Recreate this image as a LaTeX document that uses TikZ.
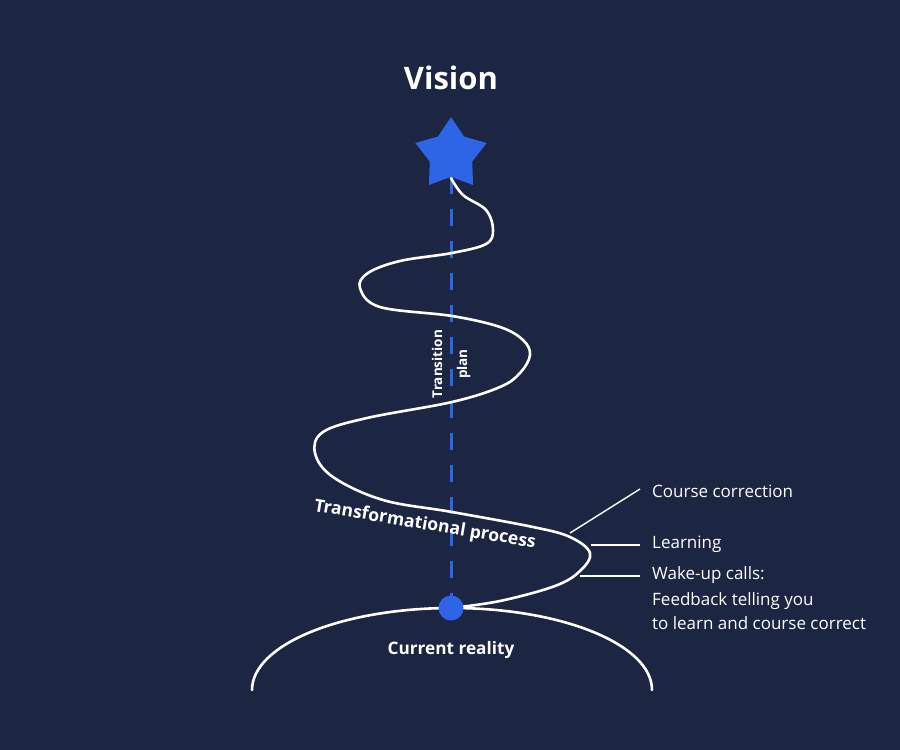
\documentclass[tikz,border=0pt]{standalone}
\usepackage{fontspec}
\setmainfont{Open Sans}
\usetikzlibrary{shapes.geometric}

\definecolor{bgnavy}{HTML}{1C2541}
\definecolor{starblue}{HTML}{2E64E6}

\begin{document}
\begin{tikzpicture}[
  x=1pt, y=-1pt,
  path/.style={draw=white, line width=2.6pt, line cap=round},
  plan/.style={draw=starblue, line width=3pt, dash pattern=on 17pt off 15pt},
  pointer/.style={draw=white, line width=1.4pt},
  callout/.style={text=white, font=\fontsize{17}{24}\selectfont, anchor=west, inner sep=0pt, align=left},
  title/.style={text=white, font=\fontsize{17.2}{20}\selectfont\bfseries}
]
\fill[bgnavy] (0,0) rectangle (900,750);
\useasboundingbox (0,0) rectangle (900,750);

\node[text=white, font=\fontsize{31}{36}\selectfont\bfseries] (vision) at (451,78) {Vision};
\node[star, star points=5, star point ratio=1.68, minimum size=75pt, inner sep=0pt] (star) at (451,154.6) {};
\node[circle, minimum size=25pt, inner sep=0pt] (now) at (451,608) {};

% transition plan
\draw[plan] (star.south) -- (now.center);
\node[text=white, rotate=90, align=center, font=\fontsize{13.5}{25}\selectfont\bfseries] (planlbl) at (451,364) {Transition\\plan};

% current reality
\draw[path] (252,690) arc[start angle=180, end angle=360, x radius=200, y radius=82];
\node[title] (reality) at (451,650) {Current reality};

% winding path
\draw[path] plot[smooth, tension=0.6] coordinates {
  (451,178) (463,195) (486,210) (493,230) (486,244) (452,253) (400,261) (368,273) (360,288)
  (380,307) (452,316) (500,327) (523,340) (530,355) (520,373) (500,387) (452,402) (367,418)
  (323,432) (315,453) (333,477) (383,500) (452,512) (533,527) (570,537) (590,553) (580,571)
  (555,586) (500,601) (451,608)};
\node[title, font=\fontsize{17.6}{20}\selectfont\bfseries, rotate=-9.5] (process) at (425,525) {Transformational process};

\fill[starblue] (star.center) node[star, star points=5, star point ratio=1.68, minimum size=75pt, inner sep=0pt, fill=starblue] {};
\fill[starblue] (now) circle[radius=12.5];

% callouts
\coordinate (cc) at (570,533);
\coordinate (lrn) at (591,545);
\coordinate (wk) at (580,576);
\node[callout] (correction) at (652,491) {Course correction};
\node[callout] (learning) at (652,544) {Learning};
\node[callout] (wakeup) at (652,575) {Wake-up calls:};
\node[callout, anchor=north west] (feedback) at (652,592) {Feedback telling you\\to learn and course correct};
\draw[pointer] (cc) -- ([xshift=-12pt,yshift=2pt]correction.west);
\draw[pointer] (lrn) -- ([xshift=-12pt]learning.west |- lrn);
\draw[pointer] (wk) -- ([xshift=-12pt]wakeup.west |- wk);
\end{tikzpicture}
\end{document}
